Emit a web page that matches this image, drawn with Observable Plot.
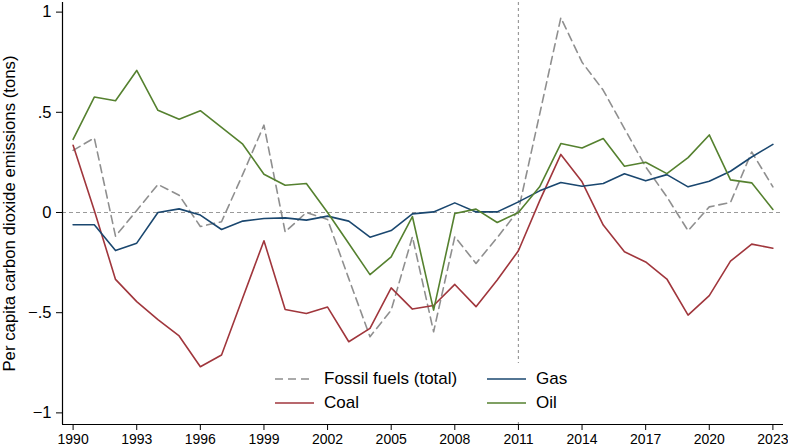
<!DOCTYPE html>
<html>
<head>
<meta charset="utf-8">
<script src="https://cdn.jsdelivr.net/npm/d3@7"></script>
<script src="https://cdn.jsdelivr.net/npm/@observablehq/plot@0.6"></script>
<style>
  html, body { margin: 0; padding: 0; background: #fff; }
  #wrap { position: relative; width: 788px; height: 446px; font-family: "Liberation Sans", Arial, Helvetica, sans-serif; color: #000; }
  #wrap svg g[aria-label="y-axis label"] text { font-size: 16.8px; }
  #legend { position: absolute; left: 265px; top: 363px; width: 315px; height: 56px; background: #fff; }
  .item { position: absolute; height: 24px; display: flex; align-items: center; font-size: 17px; line-height: 24px; white-space: nowrap; }
  .item svg { margin-right: 10px; }
</style>
</head>
<body>
<div id="wrap"></div>
<script>
const years = d3.range(1990, 2024);
const fossil = [0.31, 0.372, -0.118, 0.01, 0.14, 0.086, -0.07, -0.046, 0.19, 0.436,
  -0.097, 0.0, -0.035, -0.33, -0.62, -0.487, -0.121, -0.595, -0.121, -0.254,
  -0.125, 0.01, 0.49, 0.972, 0.75, 0.61, 0.419, 0.228, 0.078, -0.091,
  0.028, 0.05, 0.302, 0.128];
const coal = [0.335, 0.01, -0.334, -0.445, -0.535, -0.616, -0.77, -0.711, -0.425, -0.141,
  -0.484, -0.504, -0.472, -0.645, -0.578, -0.376, -0.482, -0.464, -0.359, -0.47,
  -0.337, -0.191, 0.058, 0.29, 0.153, -0.063, -0.196, -0.247, -0.332, -0.512,
  -0.415, -0.243, -0.158, -0.178];
const gas = [-0.061, -0.061, -0.19, -0.153, 0.0, 0.018, -0.013, -0.085, -0.043, -0.03,
  -0.027, -0.038, -0.018, -0.043, -0.123, -0.09, -0.007, 0.003, 0.048, 0.003,
  0.003, 0.053, 0.108, 0.15, 0.131, 0.145, 0.193, 0.158, 0.189, 0.128,
  0.156, 0.206, 0.277, 0.34];
const oil = [0.365, 0.576, 0.558, 0.709, 0.51, 0.465, 0.508, 0.425, 0.341, 0.191,
  0.136, 0.145, 0.0, -0.155, -0.31, -0.221, -0.02, -0.487, -0.005, 0.017,
  -0.05, 0.0, 0.128, 0.344, 0.322, 0.369, 0.231, 0.251, 0.194, 0.274,
  0.387, 0.163, 0.148, 0.015];

const seriesNames = ["Fossil fuels (total)", "Coal", "Gas", "Oil"];
const seriesValues = [fossil, coal, gas, oil];
const seriesColors = ["#8f8f8f", "#a0363c", "#1a476f", "#55812f"];
const seriesDash = ["8,5", null, null, null];

const xTicks = [1990, 1993, 1996, 1999, 2002, 2005, 2008, 2011, 2014, 2017, 2020, 2023];
const yTicks = [-1, -0.5, 0, 0.5, 1];
const yLabel = "Per capita carbon dioxide emissions (tons)";
const markerYear = 2011;
const xDomain = [1989.5, 2023.5];
const yDomain = [-1.058, 1.048];

const fmtY = d => d === 0 ? "0" : (d < 0 ? "\u2212" : "") + String(Math.abs(d)).replace(/^0\./, ".");

const lineMarks = seriesNames.map((name, i) => {
  const data = years.map((y, j) => ({year: y, value: seriesValues[i][j]}));
  return Plot.line(data, {x: "year", y: "value", stroke: seriesColors[i], strokeWidth: 1.6,
    strokeDasharray: seriesDash[i] || undefined});
});

const chart = Plot.plot({
  width: 788, height: 446,
  marginLeft: 62, marginRight: 5, marginTop: 2, marginBottom: 22,
  x: {domain: xDomain},
  y: {domain: yDomain},
  style: {fontFamily: '"Liberation Sans", Arial, Helvetica, sans-serif', color: "#000", background: "#fff", overflow: "visible"},
  marks: [
    Plot.ruleY([0], {stroke: "#9a9a9a", strokeWidth: 1.2, strokeDasharray: "4,3"}),
    Plot.ruleX([markerYear], {stroke: "#9a9a9a", strokeWidth: 1.2, strokeDasharray: "3,3"}),
    ...lineMarks,
    Plot.ruleX([xDomain[0]], {stroke: "#000", strokeWidth: 1.2}),
    Plot.ruleY([yDomain[0]], {stroke: "#000", strokeWidth: 1.2}),
    Plot.axisX({ticks: xTicks, tickFormat: d => String(d), tickSize: 6, tickPadding: 4, label: null, fontSize: 14}),
    Plot.axisY({ticks: yTicks, tickFormat: fmtY, tickSize: 6, tickPadding: 5, fontSize: 16.5,
      label: yLabel, labelAnchor: "center", labelArrow: "none", labelOffset: 59})
  ]
});

const wrap = document.getElementById("wrap");
wrap.appendChild(chart);

// legend overlay (inside the plot area, on a white box like the original)
const legend = document.createElement("div");
legend.id = "legend";
const order = [[0, 0, 0], [2, 0, 1], [1, 1, 0], [3, 1, 1]]; // series, row, col
for (const [i, row, col] of order) {
  const it = document.createElement("div");
  it.className = "item";
  it.style.left = (col === 0 ? 10 : 222) + "px";
  it.style.top = (row === 0 ? 4 : 28) + "px";
  const dash = seriesDash[i] ? `stroke-dasharray="${seriesDash[i]}"` : "";
  it.innerHTML = `<svg width="39" height="4"><line x1="0" y1="2" x2="39" y2="2" stroke="${seriesColors[i]}" stroke-width="1.6" ${dash}/></svg><span>${seriesNames[i]}</span>`;
  legend.appendChild(it);
}
wrap.appendChild(legend);
</script>
</body>
</html>
